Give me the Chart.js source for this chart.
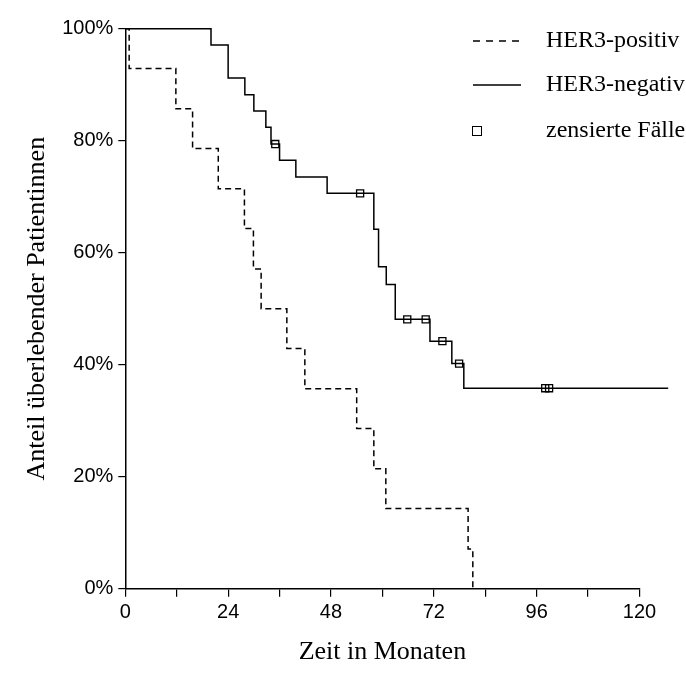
<!DOCTYPE html>
<html>
<head>
<meta charset="utf-8">
<script src="https://cdn.jsdelivr.net/npm/chart.js@4.4.1/dist/chart.umd.min.js"></script>
<style>
  html, body { margin: 0; padding: 0; background: #fff; }
  #wrap { width: 686px; height: 686px; }
</style>
</head>
<body>
<div id="wrap"><canvas id="km"></canvas></div>
<script>
// Kaplan-Meier: months of each event and survival (%) after it
const posMonths   = [0, 0.9, 11.8, 15.7, 21.7, 27.8, 29.9, 31.7, 37.7, 41.9, 54.0, 58.0, 60.8, 80.0, 81.1];
const posSurvival = [100, 92.9, 85.7, 78.6, 71.4, 64.3, 57.1, 50.0, 42.9, 35.7, 28.6, 21.4, 14.3, 7.1, 0];

const negMonths   = [0, 20.0, 24.0, 27.9, 30.0, 32.8, 34.0, 36.0, 39.8, 47.1, 58.0, 59.1, 60.9, 63.0, 71.1, 76.2, 79.0, 126.7];
const negSurvival = [100, 97.1, 91.2, 88.2, 85.3, 82.4, 79.4, 76.5, 73.5, 70.6, 64.2, 57.5, 54.3, 48.1, 44.2, 40.2, 35.8, 35.8];

const censMonths   = [35.0, 54.8, 65.8, 70.1, 74.0, 77.9, 98.0, 98.9];
const censSurvival = [79.4, 70.6, 48.1, 48.1, 44.2, 40.2, 35.8, 35.8];

const legendLabels = ["HER3-positiv", "HER3-negativ", "zensierte Fälle"];

const toPoints = (xs, ys) => xs.map((x, i) => ({ x: x, y: ys[i] }));

const serif = "'Liberation Serif', 'Times New Roman', serif";
const sans = "'Liberation Sans', Arial, sans-serif";

// legend drawn inside the plot, top right
const kmLegend = {
  id: "kmLegend",
  afterDraw(chart) {
    const ctx = chart.ctx;
    ctx.save();
    ctx.strokeStyle = "#000";
    ctx.fillStyle = "#000";
    ctx.lineWidth = 1.5;

    ctx.setLineDash([7, 6]);
    ctx.beginPath();
    ctx.moveTo(473, 41);
    ctx.lineTo(524, 41);
    ctx.stroke();

    ctx.setLineDash([]);
    ctx.beginPath();
    ctx.moveTo(473, 85);
    ctx.lineTo(521, 85);
    ctx.stroke();

    ctx.lineWidth = 1;
    ctx.strokeRect(472.5, 126.5, 9, 9);

    ctx.font = "24px " + serif;
    ctx.textBaseline = "middle";
    ctx.fillText(legendLabels[0], 546, 41);
    ctx.fillText(legendLabels[1], 546, 85);
    ctx.fillText(legendLabels[2], 546, 131);
    ctx.restore();
  }
};

Chart.defaults.color = "#000";

new Chart(document.getElementById("km"), {
  type: "line",
  data: {
    datasets: [
      {
        label: legendLabels[0],
        data: toPoints(posMonths, posSurvival),
        stepped: true,
        borderColor: "#000",
        borderWidth: 1.5,
        borderDash: [6, 4],
        pointRadius: 0,
        fill: false
      },
      {
        label: legendLabels[1],
        data: toPoints(negMonths, negSurvival),
        stepped: true,
        borderColor: "#000",
        borderWidth: 1.5,
        pointRadius: 0,
        fill: false,
        clip: false
      },
      {
        label: legendLabels[2],
        type: "scatter",
        data: toPoints(censMonths, censSurvival),
        showLine: false,
        pointStyle: "rect",
        pointRadius: 5,
        borderColor: "#000",
        borderWidth: 1.3,
        backgroundColor: "rgba(0,0,0,0)"
      }
    ]
  },
  options: {
    responsive: true,
    maintainAspectRatio: false,
    animation: false,
    layout: { padding: { left: 10, top: 28.7, right: 46.5, bottom: 8 } },
    plugins: {
      legend: { display: false },
      tooltip: { enabled: false }
    },
    scales: {
      x: {
        type: "linear",
        min: 0,
        max: 120,
        ticks: {
          stepSize: 12,
          padding: 4,
          maxRotation: 0,
          font: { family: sans, size: 20 },
          callback: v => (v % 24 === 0 ? String(v) : "")
        },
        grid: { drawOnChartArea: false, tickLength: 8, color: "#000", lineWidth: 1.2 },
        border: { color: "#000", width: 1.5 },
        title: {
          display: true,
          text: "Zeit in Monaten",
          font: { family: serif, size: 26 },
          padding: { top: 0, bottom: 10 }
        },
        afterFit: s => { s.height = 686 - 588.7 - 8; }
      },
      y: {
        min: 0,
        max: 100,
        ticks: {
          stepSize: 20,
          padding: 5,
          font: { family: sans, size: 20 },
          callback: v => v + "%"
        },
        grid: { drawOnChartArea: false, tickLength: 7, color: "#000", lineWidth: 1.2 },
        border: { color: "#000", width: 1.5 },
        title: {
          display: true,
          text: "Anteil überlebender Patientinnen",
          font: { family: serif, size: 26 },
          padding: { top: 12, bottom: 0 }
        },
        afterFit: s => { s.width = 125.3 - 10; }
      }
    }
  },
  plugins: [kmLegend]
});
</script>
</body>
</html>
